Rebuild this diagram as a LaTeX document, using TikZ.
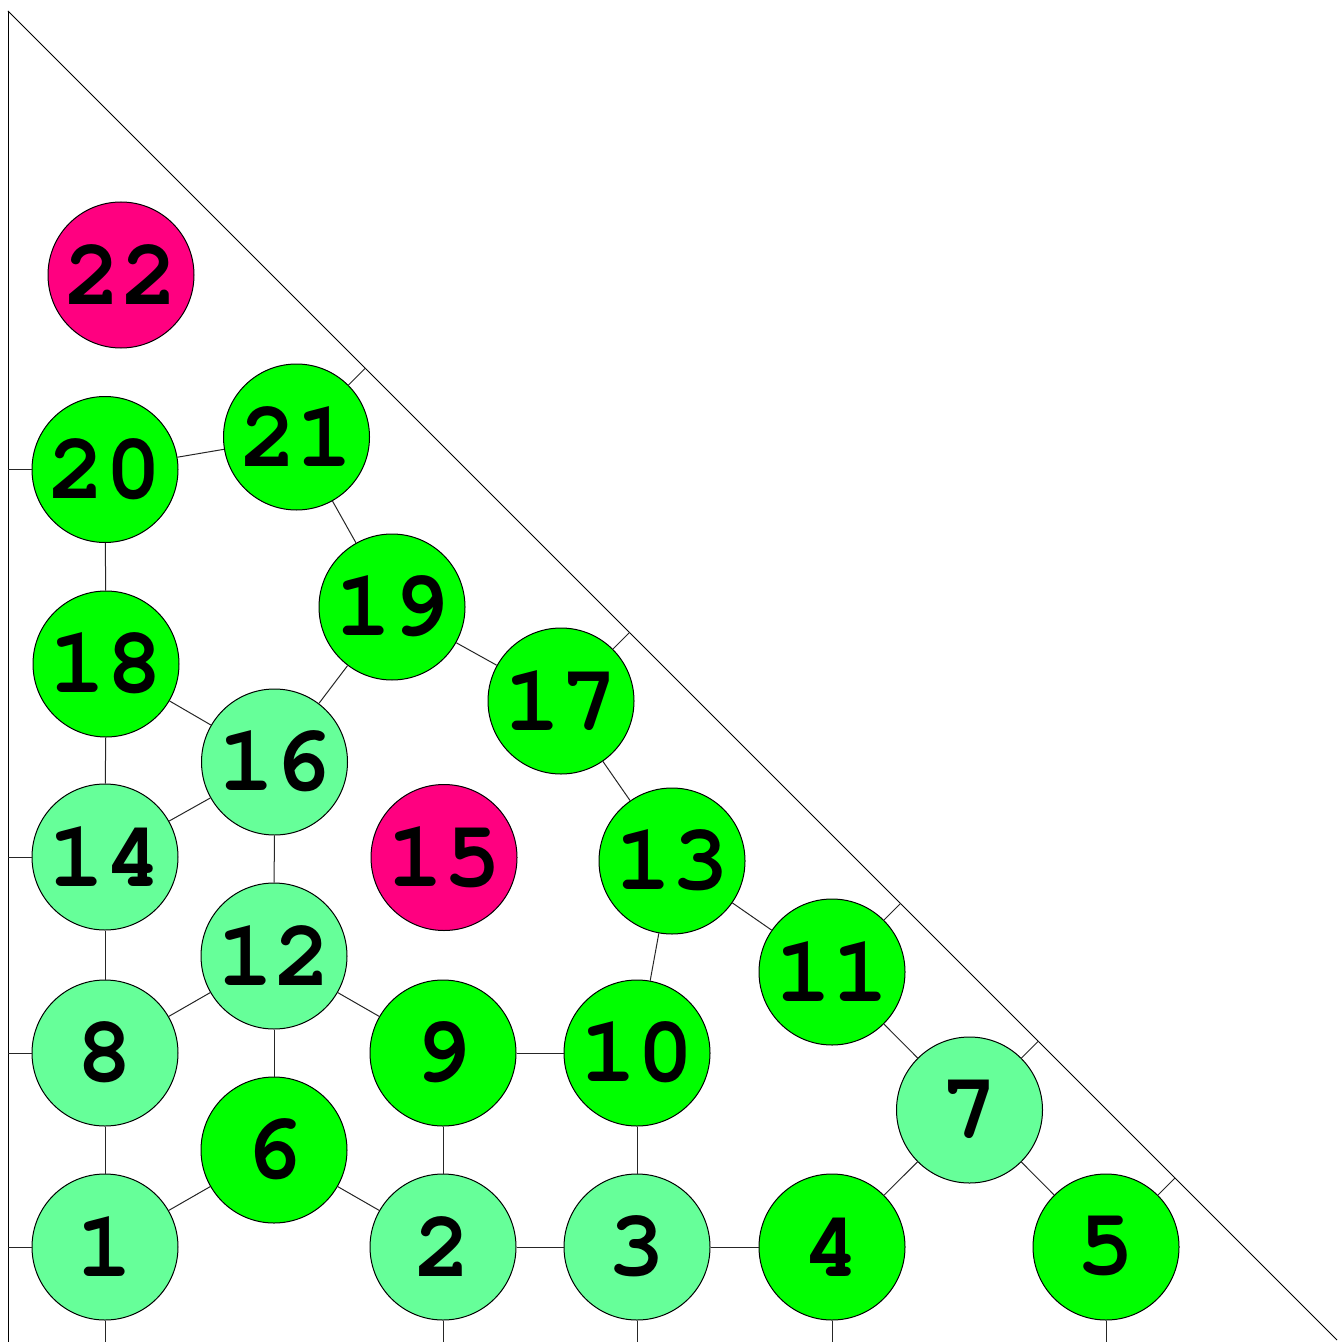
\documentclass[tikz,border=0pt]{standalone}
\usepackage[T1]{fontenc}
\usetikzlibrary{calc}
\definecolor{lg}{RGB}{102,255,153}
\definecolor{gg}{RGB}{0,255,0}
\definecolor{mg}{RGB}{255,0,128}
\begin{document}
\begin{tikzpicture}[x=0.5pt,y=-0.5pt,
  vtx/.style={circle,draw=black,line width=0.5pt,minimum size=73pt,inner sep=0pt,
    font=\fontsize{47}{47}\fontfamily{pcr}\fontseries{b}\selectfont},
  lt/.style={vtx,fill=lg}, gr/.style={vtx,fill=gg}, mgn/.style={vtx,fill=mg},
  edge/.style={line width=0.5pt,draw=black!85},
  frame/.style={line width=0.5pt,draw=black}]
\useasboundingbox (0,0) rectangle (1337,1342);
\coordinate (dA) at (8,11);
\coordinate (dB) at (1337,1340);
\coordinate (bot) at (8,1342);
\draw[frame] (dA) -- (bot);
\draw[frame] (dA) -- (dB);
\node[lt]  (n1)  at (105,1247) {1};
\node[lt]  (n2)  at (443,1247) {2};
\node[lt]  (n3)  at (637,1247) {3};
\node[gr]  (n4)  at (832,1247) {4};
\node[gr]  (n5)  at (1106,1247) {5};
\node[gr]  (n6)  at (274,1150) {6};
\node[lt]  (n7)  at (969.5,1110) {7};
\node[lt]  (n8)  at (105,1053) {8};
\node[gr]  (n9)  at (443,1053) {9};
\node[gr]  (n10) at (637,1053) {10};
\node[gr]  (n11) at (832,972) {11};
\node[lt]  (n12) at (274,956) {12};
\node[gr]  (n13) at (672,861) {13};
\node[lt]  (n14) at (105,857) {14};
\node[mgn] (n15) at (444,857.5) {15};
\node[lt]  (n16) at (274.5,762) {16};
\node[gr]  (n17) at (561,701) {17};
\node[gr]  (n18) at (106,664) {18};
\node[gr]  (n19) at (392,607) {19};
\node[gr]  (n20) at (105,469.5) {20};
\node[gr]  (n21) at (296.5,437) {21};
\node[mgn] (n22) at (121,275) {22};
% edges
\foreach \a/\b in {n1/n8,n1/n6,n6/n2,n6/n12,n2/n9,n2/n3,n3/n10,n3/n4,n4/n7,n7/n5,n7/n11,
  n11/n13,n13/n10,n10/n9,n9/n12,n12/n8,n12/n16,n8/n14,n14/n16,n14/n18,n16/n18,n16/n19,
  n18/n20,n20/n21,n21/n19,n19/n17,n17/n13}
  \draw[edge] (\a) -- (\b);
% left stubs
\foreach \a in {n20,n14,n8,n1}
  \draw[edge] (\a) -- (\a -| dA);
% bottom stubs
\foreach \a in {n1,n2,n3,n4,n5}
  \draw[edge] (\a) -- (\a |- bot);
% diagonal stubs
\foreach \a in {n21,n17,n11,n7,n5}
  \draw[edge] (\a) -- ($(dA)!(\a)!(dB)$);
\end{tikzpicture}
\end{document}
